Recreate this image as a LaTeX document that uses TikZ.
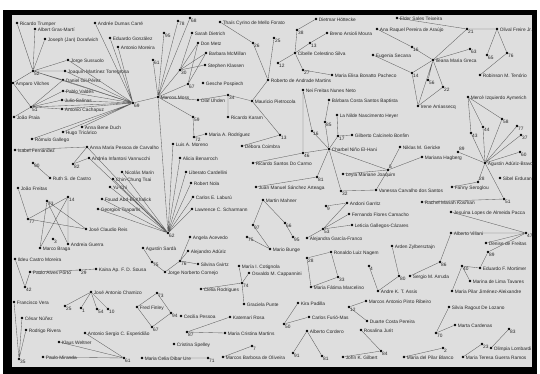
\documentclass[tikz,border=0pt]{standalone}
\usepackage{fontspec}
\usepackage{tikz}
\newfontfamily\lblfont{Liberation Sans}
\definecolor{panelgray}{RGB}{222,222,222}
\definecolor{edgegray}{RGB}{95,95,95}
\tikzset{
  dot/.style={circle, fill=black, inner sep=0pt, minimum size=2.8pt},
  pers/.style={dot, label={[nm]right:#1}},
  numb/.style={dot, label={[nr]below right:#1}},
  numbup/.style={dot, label={[nr]above right:#1}},
  numbr/.style={dot, label={[nr]right:#1}},
  nm/.style={font=\lblfont\fontsize{4.8}{5}\selectfont, inner sep=0.4pt,
    label distance=0.6pt, yshift=-1.2pt, text=black!85},
  nr/.style={font=\lblfont\fontsize{4.8}{5}\selectfont, inner sep=0.3pt,
    label distance=-0.6pt, text=black!85},
  edge/.style={line width=0.35pt, color=edgegray}
}

\begin{document}
\begin{tikzpicture}[x=1pt, y=-1pt]
  % Frame
  \fill[white] (0,0) rectangle (540,374);
  \fill[black] (3,10) rectangle (537,374);
  \fill[panelgray] (12,15) rectangle (532,367);
  \useasboundingbox (0,0) rectangle (540,374);

  % Top left group
  \node[pers=Ricardo Trumper] (trumper) at (17,23) {};
  \node[pers=Albert Gras-Martí] (gras) at (35,29) {};
  \node[pers=Joseph (Jan) Dorafwich] (dorafw) at (45,39) {};
  \node[pers=Jorge Sussuolo] (sussuolo) at (68,60) {};
  \node[pers=Joaquín Martínez Torregrosa] (torregrosa) at (65,71) {};
  \node[pers=Daniel Gil-Pérez] (gilperez) at (63,80) {};
  \node[pers=Amparo Vilches] (vilches) at (13,83) {};
  \node[pers=Pablo Valdés] (valdes) at (63,91) {};
  \node[pers=Julio Salinas] (salinas) at (62,100) {};
  \node[pers=Antonio Cachapuz] (cachapuz) at (62,109) {};
  \node[pers=João Praia] (praia) at (14,117) {};
  \node[numb=52] (h52) at (33,71) {};
  \node[numb=51] (h51) at (31,107) {};
  \node[pers=Andrée Dumas Carré] (dumas) at (95,23) {};
  \node[pers=Eduardo González] (gonzalez) at (110,38) {};
  \node[pers=Antonio Moreira] (moreira) at (118,47) {};
  \node[numb=69] (h69) at (133,103) {};
  \node[pers=Anna Bene Duch] (duch) at (82,127) {};
  \node[pers=Hugo Tricárico] (tricarico) at (63,132) {};
  \node[pers=Rómulo Gallego] (gallego) at (32,139) {};
  \node[pers=Isabel Fernández] (fernandez) at (15,150) {};

  \draw[edge] (h52) -- (trumper) (h52) -- (gras) (h52) -- (dorafw)
    (h52) -- (sussuolo) (h52) -- (torregrosa) (h52) -- (gilperez)
    (h52) -- (vilches) (h52) -- (h69);
  \draw[edge] (h51) -- (vilches) (h51) -- (gilperez) (h51) -- (valdes)
    (h51) -- (salinas) (h51) -- (cachapuz) (h51) -- (praia) (h51) -- (h69);
  \draw[edge] (h69) -- (dumas) (h69) -- (gonzalez) (h69) -- (moreira)
    (h69) -- (sussuolo) (h69) -- (torregrosa) (h69) -- (gilperez)
    (h69) -- (valdes) (h69) -- (salinas) (h69) -- (cachapuz)
    (h69) -- (duch) (h69) -- (tricarico) (h69) -- (gallego);

  % Top centre group
  \node[numb=78] (n78) at (178,21) {};
  \node[numb=68] (n68) at (190,18) {};
  \node[numb=95] (n95) at (164,33) {};
  \node[numb=61] (n61) at (153,60) {};
  \node[pers=Sarah Dietrich] (dietrich) at (192,33) {};
  \node[pers=Don Metz] (metz) at (198,43) {};
  \node[pers=Barbara McMillan] (mcmillan) at (206,53) {};
  \node[pers=Stephen Klassen] (klassen) at (205,65) {};
  \node[numb=30] (n30) at (180,70) {};
  \node[numb=67] (n67) at (188,84) {};
  \node[pers=Marcos Moss] (moss) at (158,97) {};
  \node[pers=Olaf Uhden] (uhden) at (198,100) {};
  \node[pers=Gesche Pospiech] (pospiech) at (203,83) {};
  \node[numb=34] (n34) at (228,95) {};
  \node[pers=Mauricio Pietrocola] (pietrocola) at (252,101) {};
  \node[pers=Ricardo Karam] (karam) at (228,117) {};
  \node[numb=59] (n59) at (193,117) {};
  \node[numb=72] (n72) at (194,137) {};
  \node[pers=Maria A. Rodríguez] (rodriguez) at (206,134) {};
  \node[pers=Thaís Cyrino de Mello Forato] (forato) at (220,22) {};
  \node[numb=26] (n26) at (253,43) {};
  \node[numb=25] (n25) at (274,38) {};
  \node[pers=Roberto de Andrade Martins] (martins) at (268,80) {};
  \node[pers=Débora Coimbra] (coimbra) at (242,146) {};
  \node[numb=13] (n13b) at (280,135) {};

  \draw[edge] (moss) -- (n78) (moss) -- (n68) (moss) -- (n95) (moss) -- (n61)
    (moss) -- (n30) (moss) -- (n67) (moss) -- (uhden) (moss) -- (n59)
    (moss) -- (h69);
  \draw[edge] (n30) -- (dietrich) (n30) -- (metz) (n30) -- (mcmillan)
    (n30) -- (klassen) (n67) -- (metz) (n67) -- (mcmillan);
  \draw[edge] (uhden) -- (n34) (n34) -- (karam) (n34) -- (pietrocola)
    (pietrocola) -- (martins) (n26) -- (martins) (forato) -- (n26)
    (n25) -- (martins) (pietrocola) -- (n13b) (coimbra) -- (n13b)
    (n59) -- (n72) (n72) -- (rodriguez);

  % Cibelle Silva group
  \node[pers=Dietmar Höttecke] (hottecke) at (316,19) {};
  \node[numb=38] (n38) at (297,30) {};
  \node[pers=Breno Arsioli Moura] (moura) at (327,33) {};
  \node[numb=13] (n13a) at (310,43) {};
  \node[pers=Cibelle Celestino Silva] (silva) at (295,53) {};
  \node[numb=12] (n12a) at (278,63) {};
  \node[numb=27] (n27) at (303,70) {};
  \node[pers=Maria Elisa Bonatto Pacheco] (pacheco) at (332,75) {};

  \draw[edge] (silva) -- (n38) (n38) -- (hottecke) (silva) -- (n13a)
    (n13a) -- (moura) (silva) -- (n12a) (silva) -- (n27) (n27) -- (pacheco);

  % Greca group
  \node[pers=Elder Sales Teixeira] (teixeira) at (397,18) {};
  \node[pers=Ana Raquel Pereira de Araújo] (araujo) at (377,29) {};
  \node[pers=Eugenia Secana] (secana) at (373,55) {};
  \node[numb=21] (n21) at (467,29) {};
  \node[pers=Olival Freire Jr.] (freire) at (497,29) {};
  \node[numb=63] (n63) at (470,49) {};
  \node[numb=65] (n65) at (487,55) {};
  \node[numb=76] (n76a) at (507,53) {};
  \node[pers=Robinson M. Tenório] (tenorio) at (480,75) {};
  \node[pers=Ileana Maria Greca] (greca) at (433,60) {};
  \node[numb=16] (n16a) at (412,47) {};
  \node[numb=14] (n14a) at (412,73) {};
  \node[numb=56] (n56) at (428,80) {};
  \node[numb=22] (n22) at (443,87) {};
  \node[pers=Irene Arriassecq] (arriassecq) at (418,106) {};

  \draw[edge] (teixeira) -- (n21) (n21) -- (freire) (n21) -- (greca)
    (freire) -- (n65) (freire) -- (n76a) (n76a) -- (tenorio)
    (greca) -- (n63) (greca) -- (n16a) (araujo) -- (n16a) (greca) -- (n14a)
    (secana) -- (n14a) (n14a) -- (arriassecq) (greca) -- (arriassecq)
    (greca) -- (n56) (greca) -- (n22) (n22) -- (arriassecq);

  % El-Hani group
  \node[pers=Nei Freitas Nunes Neto] (neto) at (303,90) {};
  \node[pers=Bárbara Costa Santos Baptista] (baptista) at (329,100) {};
  \node[pers=La Nilde Nascimento Heyer] (heyer) at (337,115) {};
  \node[numb=85] (n85) at (325,122) {};
  \node[numb=16] (n16b) at (312,131) {};
  \node[numb=17] (n17) at (338,136) {};
  \node[pers=Gilberto Calcinelo Bonfim] (bonfim) at (352,135) {};
  \node[pers=Charbel Niño El-Hani] (elhani) at (329,149) {};
  \node[numb=46] (n46) at (303,153) {};
  \node[pers=Ricardo Santos Do Carmo] (docarmo) at (253,163) {};
  \node[numb=81] (n81a) at (317,177) {};
  \node[pers=Juan Manuel Sánchez Arteaga] (arteaga) at (256,187) {};
  \node[pers=Leyla Mariane Joaquim] (joaquim) at (343,174) {};
  \node[numbup=5] (n5) at (388,170) {};
  \node[pers=Niklas M. Gericke] (gericke) at (400,147) {};
  \node[pers=Mariana Hagberg] (hagberg) at (422,157) {};
  \node[numb=32] (n32) at (341,191) {};
  \node[pers=Vanessa Carvalho dos Santos] (santos) at (376,190) {};

  \draw[edge] (neto) -- (n46) (neto) -- (n16b) (n16b) -- (elhani)
    (baptista) -- (n85) (n85) -- (elhani) (heyer) -- (n17) (n17) -- (bonfim)
    (n17) -- (elhani) (elhani) -- (n46) (n46) -- (docarmo)
    (elhani) -- (n81a) (n81a) -- (arteaga) (elhani) -- (n32) (elhani) -- (n5)
    (n5) -- (joaquim) (n5) -- (gericke) (n5) -- (hagberg) (n5) -- (santos)
    (n32) -- (santos);

  % Aduriz-Bravo group
  \node[pers=Mercè Izquierdo Aymerich] (izquierdo) at (468,97) {};
  \node[numb=58] (n58) at (502,119) {};
  \node[numb=77] (n77a) at (517,126) {};
  \node[numb=43] (n43) at (471,133) {};
  \node[numb=44] (n44) at (483,127) {};
  \node[numb=37] (n37) at (521,135) {};
  \node[numb=60] (n60) at (520,152) {};
  \node[numbup=89] (n89a) at (458,152) {};
  \node[pers=Agustín Adúriz-Bravo] (aduriz) at (485,163) {};
  \node[numbup=28] (n28a) at (478,182) {};
  \node[pers=Sibel Erduran] (erduran) at (500,178) {};
  \node[numb=51] (n51) at (504,199) {};
  \node[pers=Fanny Seroglou] (seroglou) at (452,187) {};
  \node[pers=Rachel Mariah Kosman] (kosman) at (422,202) {};
  \node[pers=Jesuína Lopes de Almeida Pacca] (pacca) at (451,212) {};
  \node[pers=Alberto Villani] (villani) at (451,233) {};
  \node[numb=47] (n47) at (526,233) {};
  \node[pers=Denise de Freitas] (dfreitas) at (486,243) {};

  \draw[edge] (izquierdo) -- (n43) (izquierdo) -- (n44) (izquierdo) -- (n58)
    (aduriz) -- (n43) (aduriz) -- (n44) (aduriz) -- (n58) (aduriz) -- (n77a)
    (aduriz) -- (n37) (aduriz) -- (n60) (aduriz) -- (n89a) (aduriz) -- (n28a)
    (aduriz) -- (n51) (seroglou) -- (n28a) (kosman) -- (n51)
    (pacca) -- (n47) (villani) -- (n47) (dfreitas) -- (n47);

  % Left middle group
  \node[pers=Anna Maria Pessoa de Carvalho] (carvalho) at (87,147) {};
  \node[pers=Andréa Infantosi Vannucchi] (vannucchi) at (89,158) {};
  \node[numb=82] (n82) at (73,164) {};
  \node[numb=90] (n90) at (33,163) {};
  \node[pers=Ruth S. de Castro] (castro) at (50,178) {};
  \node[pers=João Freitas] (jfreitas) at (18,188) {};
  \node[numb=73] (n73a) at (47,201) {};
  \node[numb=14] (n14b) at (68,197) {};
  \node[numb=77] (n77b) at (28,219) {};
  \node[pers=José Claudio Reis] (reis) at (86,229) {};
  \node[numb=3] (n3) at (53,239) {};
  \node[pers=Andreia Guerra] (guerra) at (68,244) {};
  \node[pers=Marco Braga] (braga) at (40,248) {};

  \draw[edge] (carvalho) -- (n82) (vannucchi) -- (n82) (n90) -- (castro)
    (fernandez) -- (carvalho)
    (jfreitas) -- (n77b) (n77b) -- (reis) (n77b) -- (n14b) (n73a) -- (reis)
    (n73a) -- (guerra) (n14b) -- (guerra) (n14b) -- (braga) (n73a) -- (braga);

  % Hub 62
  \node[numb=62] (h62) at (168,233) {};
  \node[pers=Luis A. Moreno] (moreno) at (173,144) {};
  \node[pers=Alicia Benarroch] (benarroch) at (180,158) {};
  \node[pers=Liberato Cardellini] (cardellini) at (186,172) {};
  \node[pers=Robert Nola] (nola) at (191,183) {};
  \node[pers=Carlos E. Laburú] (laburu) at (193,197) {};
  \node[pers=Lawrence C. Scharmann] (scharmann) at (192,209) {};
  \node[pers=Nicolás Marín] (marin) at (122,172) {};
  \node[pers=Chin-Chung Tsai] (tsai) at (113,179) {};
  \node[pers=Yu-Chi] (yuchi) at (110,187) {};
  \node[pers=Fouad Abd-El-Khalick] (khalick) at (102,199) {};
  \node[pers=Georgios Tsaparlis] (tsaparlis) at (98,209) {};

  \draw[edge] (h62) -- (moss) (h62) -- (moreno) (h62) -- (benarroch)
    (h62) -- (cardellini) (h62) -- (nola) (h62) -- (laburu)
    (h62) -- (scharmann) (h62) -- (marin) (h62) -- (tsai) (h62) -- (yuchi)
    (h62) -- (khalick) (h62) -- (tsaparlis) (h62) -- (carvalho)
    (h62) -- (vannucchi);

  % Bunge / Garritz group
  \node[pers=Martin Mahner] (mahner) at (263,200) {};
  \node[numb=97] (n97) at (253,225) {};
  \node[pers=Angela Acevedo] (acevedo) at (190,237) {};
  \node[numb=75] (n75a) at (247,237) {};
  \node[pers=Mario Bunge] (bunge) at (270,249) {};
  \node[numb=66] (n66) at (285,223) {};
  \node[numb=95] (n95b) at (293,237) {};
  \node[numb=9] (n9) at (326,206) {};
  \node[pers=Andoni Garritz] (garritz) at (347,203) {};
  \node[pers=Fernando Flores Camacho] (flores) at (349,214) {};
  \node[pers=Leticia Gallegos-Cázares] (gallegos) at (352,225) {};
  \node[numb=53] (n53) at (323,229) {};
  \node[pers=Alejandra García-Franco] (garcia) at (307,238) {};

  \draw[edge] (bunge) -- (n97) (n97) -- (mahner) (bunge) -- (n75a)
    (mahner) -- (n66) (n66) -- (n95b) (n9) -- (garritz) (n53) -- (garritz)
    (n53) -- (flores) (n53) -- (gallegos) (n53) -- (garcia);

  % Lower centre
  \node[pers=Agustín Sardà] (sarda) at (143,248) {};
  \node[numb=75] (n75b) at (152,262) {};
  \node[numb=76] (n76b) at (180,261) {};
  \node[pers=Alejandro Adúriz] (aadur) at (188,251) {};
  \node[pers=Silvina Gvirtz] (gvirtz) at (198,264) {};
  \node[pers=Jorge Norberto Cornejo] (cornejo) at (165,272) {};
  \node[pers=María I. Cotignola] (cotignola) at (239,266) {};
  \node[pers=Osvaldo M. Cappannini] (cappannini) at (249,273) {};
  \node[numb=74] (n74) at (242,283) {};
  \node[pers=Graciela Punte] (punte) at (244,304) {};
  \node[pers=Clelia Rodrigues] (rodrigues) at (201,289) {};
  \node[numb=73] (n73b) at (157,293) {};
  \node[pers=Fred Finley] (finley) at (137,307) {};
  \node[numb=94] (n94) at (171,313) {};
  \node[pers=Cecilia Pessoa] (pessoa) at (181,316) {};
  \node[numb=67] (n67b) at (152,327) {};
  \node[pers=Katemari Rosa] (rosa) at (230,317) {};
  \node[numb=87] (n87) at (187,332) {};
  \node[pers=Maria Cristina Martins] (cmartins) at (225,333) {};
  \node[pers=Cristina Spelley] (spelley) at (174,344) {};
  \node[pers=Maria Celia Dibar Ure] (dibar) at (142,358) {};
  \node[numb=71] (n71) at (208,358) {};
  \node[pers=Marcos Barbosa de Oliveira] (barbosa) at (223,357) {};
  \node[numb=7] (n7) at (252,346) {};

  \draw[edge] (sarda) -- (n75b) (n75b) -- (cornejo) (cornejo) -- (n76b)
    (n76b) -- (gvirtz) (n76b) -- (aadur) (n76b) -- (acevedo)
    (cotignola) -- (n74) (cappannini) -- (n74) (n74) -- (rodrigues)
    (n74) -- (punte) (n73b) -- (finley) (finley) -- (n67b) (n67b) -- (n94)
    (n94) -- (n73b) (n87) -- (rosa) (n87) -- (cmartins) (dibar) -- (n71)
    (barbosa) -- (n7);

  % Bottom left
  \node[pers=Ildeu Castro Moreira] (ildeu) at (15,259) {};
  \node[pers=Paulo Alves Porto] (porto) at (30,272) {};
  \node[numb=42] (n42) at (25,287) {};
  \node[numb=29] (n29) at (80,270) {};
  \node[pers=Kaina Ap. F. D. Sousa] (sousa) at (96,269) {};
  \node[pers=José Antonio Chamizo] (chamizo) at (91,292) {};
  \node[numb=25] (n25b) at (65,306) {};
  \node[numb=1] (n1) at (81,308) {};
  \node[numb=54] (n54) at (97,309) {};
  \node[numb=10] (n10) at (108,309) {};
  \node[pers=Francisco Vera] (vera) at (14,302) {};
  \node[pers=César Núñez] (nunez) at (22,318) {};
  \node[pers=Rodrigo Rivera] (rivera) at (26,330) {};
  \node[numb=35] (n35) at (19,359) {};
  \node[pers=Antonio Sergio C. Esperidião] (esperidiao) at (85,333) {};
  \node[pers=Klaus Weltner] (weltner) at (59,342) {};
  \node[pers=Paulo Miranda] (miranda) at (43,357) {};
  \node[numb=61] (n61b) at (124,358) {};

  \draw[edge] (ildeu) -- (n42) (porto) -- (n42) (porto) -- (n29)
    (n29) -- (sousa) (chamizo) -- (n25b) (chamizo) -- (n1) (chamizo) -- (n54)
    (chamizo) -- (n10) (vera) -- (n35) (nunez) -- (n35) (rivera) -- (n35)
    (esperidiao) -- (n61b) (weltner) -- (n61b) (miranda) -- (n61b);

  % Bottom right
  \node[numb=28] (n28b) at (307,258) {};
  \node[pers=Ronaldo Luiz Nagem] (nagem) at (331,252) {};
  \node[numb=33] (n33) at (338,277) {};
  \node[pers=Maria Fátima Marcelino] (marcelino) at (311,287) {};
  \node[pers=Arden Zylbersztajn] (zylber) at (392,246) {};
  \node[numb=4] (n4) at (369,266) {};
  \node[pers=Andre K. T. Assis] (assis) at (378,291) {};
  \node[numb=80] (n80) at (399,276) {};
  \node[pers=Sergio M. Arruda] (arruda) at (410,276) {};
  \node[numb=86] (n86) at (440,262) {};
  \node[numb=89] (n89b) at (488,252) {};
  \node[numb=40] (n40) at (462,266) {};
  \node[pers=Eduardo F. Mortimer] (mortimer) at (480,268) {};
  \node[pers=Marina de Lima Tavares] (tavares) at (470,281) {};
  \node[pers=Maria Pilar Jiménez-Aleixandre] (jimenez) at (452,291) {};
  \node[pers=Kira Padilla] (padilla) at (298,303) {};
  \node[numb=50] (n50) at (284,324) {};
  \node[pers=Carlos Furió-Mas] (furio) at (309,317) {};
  \node[pers=Alberto Cordero] (cordero) at (307,331) {};
  \node[numb=91] (n91) at (293,353) {};
  \node[numb=81] (n81b) at (322,356) {};
  \node[numb=12] (n12b) at (349,307) {};
  \node[pers=Marcos Antonio Pinto Ribeiro] (ribeiro) at (366,301) {};
  \node[pers=Duarte Costa Pereira] (pereira) at (367,321) {};
  \node[pers=Rosalina Jurit] (jurit) at (361,330) {};
  \node[numb=84] (n84) at (381,351) {};
  \node[pers=John K. Gilbert] (gilbert) at (343,357) {};
  \node[pers=Silvia Ragout De Lozano] (lozano) at (449,307) {};
  \node[numb=70] (n70) at (436,333) {};
  \node[pers=Marta Cardenas] (cardenas) at (455,325) {};
  \node[numb=2] (n2) at (443,348) {};
  \node[pers=Maria del Pilar Blanco] (blanco) at (404,357) {};
  \node[pers=Maria Teresa Guerra Ramos] (ramos) at (463,357) {};
  \node[numb=23] (n23) at (482,344) {};
  \node[pers=Olimpia Lombardi] (lombardi) at (491,348) {};
  \node[numb=83] (n83) at (509,329) {};

  \draw[edge] (n28b) -- (nagem) (nagem) -- (n33) (n33) -- (marcelino)
    (marcelino) -- (n28b) (zylber) -- (n80) (n80) -- (assis) (n4) -- (assis)
    (villani) -- (n86) (n86) -- (arruda) (n47) -- (n89b) (n89b) -- (mortimer)
    (n40) -- (mortimer) (n40) -- (tavares) (n40) -- (jimenez)
    (padilla) -- (n50) (n50) -- (furio) (cordero) -- (n91) (cordero) -- (n81b)
    (n12b) -- (ribeiro) (n12b) -- (pereira) (jurit) -- (n84) (gilbert) -- (n84)
    (lozano) -- (n70) (n70) -- (cardenas) (blanco) -- (n2) (ramos) -- (n23)
    (n83) -- (lombardi);
\end{tikzpicture}
\end{document}
